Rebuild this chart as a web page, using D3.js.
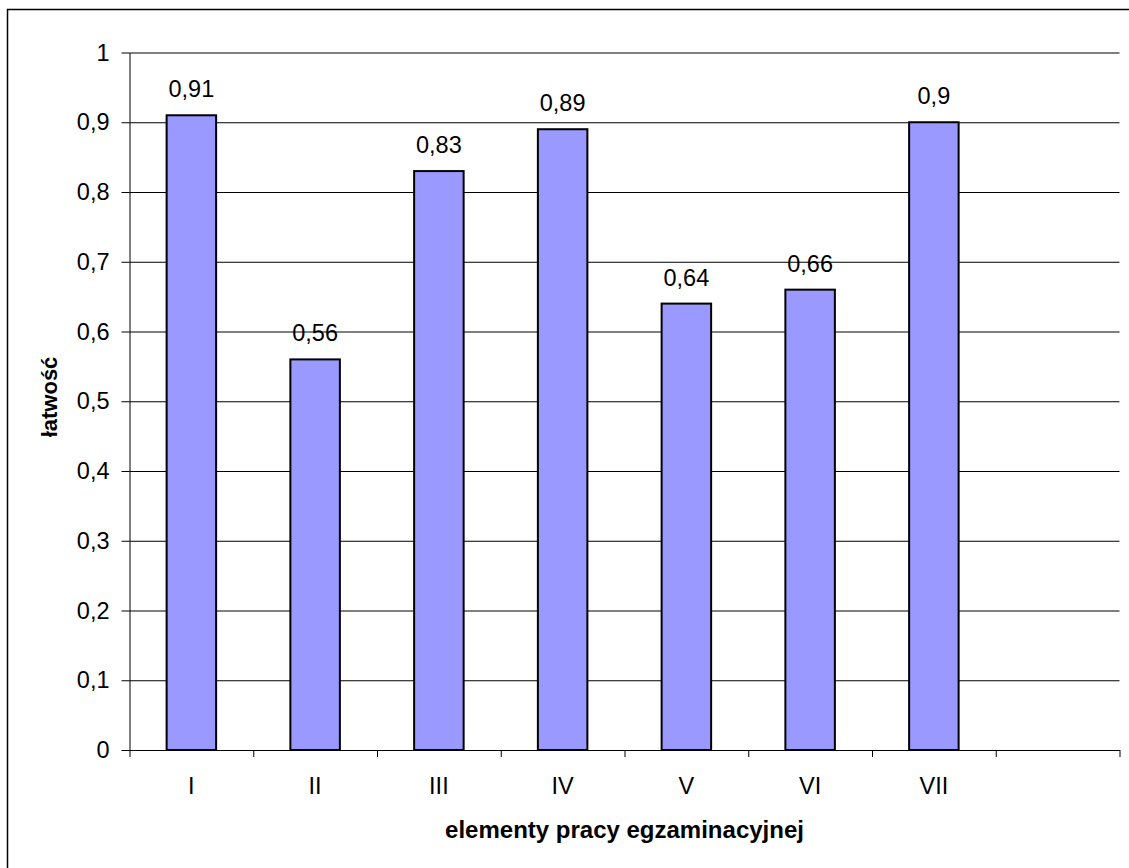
<!DOCTYPE html>
<html>
<head>
<meta charset="utf-8">
<script src="https://cdn.jsdelivr.net/npm/d3@7"></script>
<style>
  body { margin: 0; background: #fff; }
  text { font-family: "Liberation Sans", Arial, sans-serif; }
</style>
</head>
<body>
<div id="chart"></div>
<script>
// data
var categories = ["I", "II", "III", "IV", "V", "VI", "VII", ""];
var values = [0.91, 0.56, 0.83, 0.89, 0.64, 0.66, 0.9, null];
var yTicks = [0, 0.1, 0.2, 0.3, 0.4, 0.5, 0.6, 0.7, 0.8, 0.9, 1];
var xTitle = "elementy pracy egzaminacyjnej";
var yTitle = "łatwość";

var W = 1129, H = 868;
var margin = {top: 52.5, right: 9.5, bottom: 118, left: 129.5};
var width = W - margin.left - margin.right,
    height = H - margin.top - margin.bottom;
var fontSize = "23.5px";

var pl = d3.formatLocale({decimal: ",", thousands: " ", grouping: [3], currency: ["", " zł"]});
var fmt = pl.format("~g");

var data = categories.map(function(c, i) { return {cat: c, value: values[i]}; });

var svg = d3.select("#chart").append("svg")
    .attr("width", W)
    .attr("height", H);

// outer frame (cut off at right and bottom as in the picture)
svg.append("rect")
    .attr("x", 7.5).attr("y", 9.5)
    .attr("width", W + 20).attr("height", H + 20)
    .attr("fill", "none")
    .attr("stroke", "#000")
    .attr("stroke-width", 1.5);

var g = svg.append("g")
    .attr("transform", "translate(" + margin.left + "," + margin.top + ")");

var barPad = 0.6;
var x = d3.scaleBand()
    .domain(categories)
    .range([0, width])
    .paddingInner(barPad)
    .paddingOuter(barPad / 2);

var xEdges = d3.scaleLinear()
    .domain([0, categories.length])
    .range([0, width]);

var y = d3.scaleLinear()
    .domain([0, 1])
    .range([height, 0]);

// gridlines
g.append("g")
    .attr("class", "grid")
    .call(d3.axisLeft(y).tickValues(yTicks).tickSize(-width).tickFormat(""))
    .call(function(s) {
      s.select(".domain").remove();
      s.selectAll("line").attr("stroke", "#000").attr("stroke-width", 1);
    });

// y axis
g.append("g")
    .call(d3.axisLeft(y).tickValues(yTicks).tickSizeInner(8).tickSizeOuter(0)
      .tickPadding(12).tickFormat(pl.format(".1~f")))
    .call(function(s) {
      s.select(".domain").attr("stroke", "#000");
      s.selectAll("text").attr("font-size", fontSize).attr("fill", "#000")
        .style("font-family", "'Liberation Sans', Arial, sans-serif");
    });

// x axis: boundary ticks
g.append("g")
    .attr("transform", "translate(0," + height + ")")
    .call(d3.axisBottom(xEdges).ticks(categories.length).tickSizeInner(7).tickSizeOuter(0).tickFormat(""))
    .call(function(s) {
      s.select(".domain").attr("stroke", "#000");
    });

// x axis: category labels
g.append("g")
    .attr("transform", "translate(0," + height + ")")
    .call(d3.axisBottom(x).tickSize(0).tickPadding(27))
    .call(function(s) {
      s.select(".domain").remove();
      s.selectAll("text").attr("font-size", fontSize).attr("fill", "#000")
        .style("font-family", "'Liberation Sans', Arial, sans-serif");
    });

// bars
var bars = data.filter(function(d) { return d.value != null; });
g.selectAll(".bar")
    .data(bars)
    .enter().append("rect")
      .attr("class", "bar")
      .attr("x", function(d) { return x(d.cat); })
      .attr("y", function(d) { return y(d.value); })
      .attr("width", x.bandwidth())
      .attr("height", function(d) { return height - y(d.value); })
      .attr("fill", "#9999ff")
      .attr("stroke", "#000")
      .attr("stroke-width", 2);

// value labels
g.selectAll(".lbl")
    .data(bars)
    .enter().append("text")
      .attr("class", "lbl")
      .attr("x", function(d) { return x(d.cat) + x.bandwidth() / 2; })
      .attr("y", function(d) { return y(d.value) - 18; })
      .attr("text-anchor", "middle")
      .attr("font-size", fontSize)
      .text(function(d) { return fmt(d.value); });

// axis titles
svg.append("text")
    .attr("x", margin.left + width / 2)
    .attr("y", 838)
    .attr("text-anchor", "middle")
    .attr("font-size", "24px")
    .attr("font-weight", "bold")
    .text(xTitle);

svg.append("text")
    .attr("transform", "translate(57,397)rotate(-90)")
    .attr("text-anchor", "middle")
    .attr("font-size", "22px")
    .attr("font-weight", "bold")
    .text(yTitle);
</script>
</body>
</html>
